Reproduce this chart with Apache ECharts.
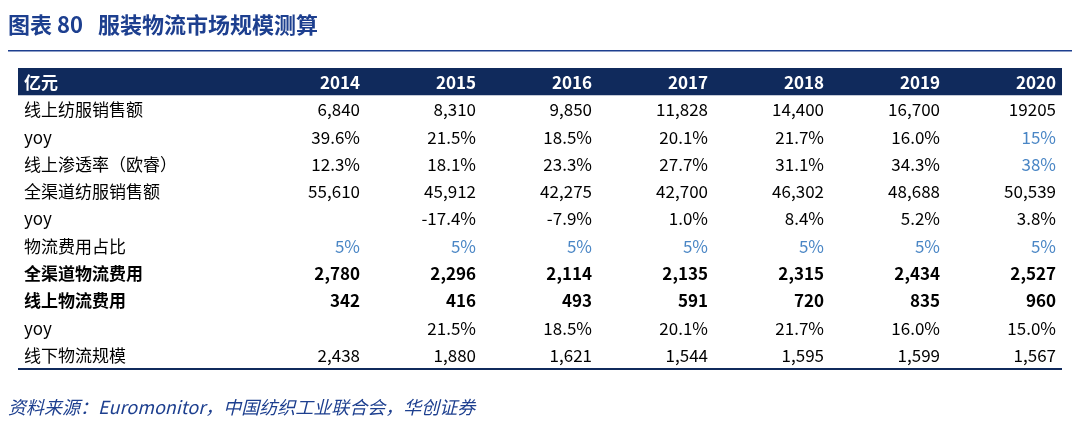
<!DOCTYPE html>
<html><head><meta charset="utf-8">
<script src="https://cdn.jsdelivr.net/npm/echarts@6/dist/echarts.min.js"></script>
<style>html,body{margin:0;padding:0;background:#fff}#c{width:1080px;height:436px}</style>
</head><body><div id="c"></div>
<script>
const years = ['2014','2015','2016','2017','2018','2019','2020'];
const rowLabels = ['线上纺服销售额','yoy','线上渗透率（欧睿）','全渠道纺服销售额','yoy','物流费用占比','全渠道物流费用','线上物流费用','yoy','线下物流规模'];
const r1 = ['6,840','8,310','9,850','11,828','14,400','16,700','19205'];
const r2 = ['39.6%','21.5%','18.5%','20.1%','21.7%','16.0%','15%'];
const r3 = ['12.3%','18.1%','23.3%','27.7%','31.1%','34.3%','38%'];
const r4 = ['55,610','45,912','42,275','42,700','46,302','48,688','50,539'];
const r5 = ['','-17.4%','-7.9%','1.0%','8.4%','5.2%','3.8%'];
const r6 = ['5%','5%','5%','5%','5%','5%','5%'];
const r7 = ['2,780','2,296','2,114','2,135','2,315','2,434','2,527'];
const r8 = ['342','416','493','591','720','835','960'];
const r9 = ['','21.5%','18.5%','20.1%','21.7%','16.0%','15.0%'];
const r10 = ['2,438','1,880','1,621','1,544','1,595','1,599','1,567'];
const rows = [r1,r2,r3,r4,r5,r6,r7,r8,r9,r10];
const blueCells = {'1,6':1,'2,6':1};
const blueRows = {5:1};
const boldRows = {6:1,7:1};

const cols = ['c0','c1'].concat(years);
const rowCats = ['h'].concat(rowLabels.map((_,i)=>'r'+i));
const data = [];
data.push([0,0,'亿元','h']);
years.forEach((y,j)=>data.push([j+2,0,y,'h']));
rowLabels.forEach((l,i)=>{
  data.push([0,i+1,l,'l',i]);
  rows[i].forEach((v,j)=>data.push([j+2,i+1,v,'v',i,j]));
});
const FONT = '"Noto Sans CJK SC", sans-serif';
const chart = echarts.init(document.getElementById('c'));
chart.setOption({
  animation:false,
  grid:{left:18,right:18,top:68,height:300},
  xAxis:{type:'category',data:cols,show:false},
  yAxis:{type:'category',data:rowCats,inverse:true,show:false},
  graphic:[
    {type:'text',left:8,top:14,style:{text:'图表 80   服装物流市场规模测算',font:'bold 22px "Noto Sans CJK SC"',fill:'#1d3f8f'}},
    {type:'rect',shape:{x:8,y:50,width:1064,height:1.5},style:{fill:'#1d3f8f'}},
    {type:'rect',shape:{x:18,y:368,width:1044,height:2},style:{fill:'#102a5c'}},
    {type:'text',left:8,top:398,style:{text:'资料来源：Euromonitor，中国纺织工业联合会，华创证券',font:'italic 18px "Noto Sans CJK SC"',fill:'#1d3f8f'}}
  ],
  series:[{
    type:'custom',
    data:data,
    renderItem:(params,api)=>{
      const d = data[params.dataIndex];
      const p = api.coord([d[0],d[1]]);
      const s = api.size([1,1]);
      const kids=[];
      if(d[3]==='h' && d[0]===0){
        kids.push({type:'rect',shape:{x:18,y:p[1]-s[1]/2,width:1044,height:s[1]},style:{fill:'#102a5c'}});
      }
      let fill='#000', weight='normal', x, align;
      if(d[3]==='h'){fill='#fff';weight='bold';}
      if(d[3]==='v'){ if(blueRows[d[4]]||blueCells[d[4]+','+d[5]]) fill='#4a86c5'; }
      if((d[3]==='v'||d[3]==='l') && boldRows[d[4]]) weight='bold';
      if(d[0]===0){x=p[0]-s[0]/2+6;align='left';}
      else {x=p[0]+s[0]/2-6;align='right';}
      kids.push({type:'text',style:{x:x,y:p[1]+1,text:d[2],textAlign:align,textVerticalAlign:'middle',fill:fill,font:weight+' 17px '+FONT}});
      return {type:'group',children:kids};
    }
  }]
});
</script></body></html>
